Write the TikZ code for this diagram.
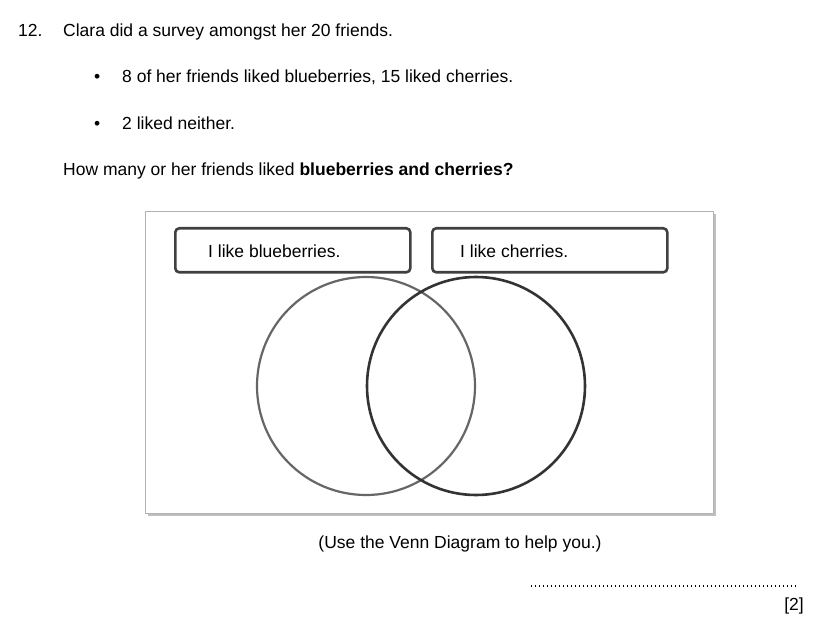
\documentclass[tikz,border=0pt]{standalone}
\usepackage{fontspec}
\setmainfont{Liberation Sans}
\begin{document}
\begin{tikzpicture}[x=1pt,y=-1pt,
  txt/.style={anchor=base west,inner sep=0pt,font=\fontsize{17.5}{21}\selectfont},
  lbl/.style={draw=black!75,line width=2.6pt,rounded corners=4pt,minimum width=235pt,minimum height=44pt,anchor=north west}]
\useasboundingbox (0,0) rectangle (825,631);
\node[txt] (num) at (18,37) {12.};
\node[txt] (q1) at (63,37) {Clara did a survey amongst her 20 friends.};
\node[txt] (b1) at (94,83) {\textbullet};
\node[txt] (t1) at (122,83) {8 of her friends liked blueberries, 15 liked cherries.};
\node[txt] (b2) at (94,130) {\textbullet};
\node[txt] (t2) at (122,130) {2 liked neither.};
\node[txt] (q2) at (63,176) {How many or her friends liked \textbf{blueberries and cherries?}};
\fill[black!25] (148,214) rectangle (716,516);
\node[draw=black!30,fill=white,line width=1pt,minimum width=568pt,minimum height=302pt,anchor=north west,inner sep=0pt] (frame) at (145,211) {};
\draw[black!60,line width=2.2pt] (366,386) circle (109);
\draw[black!80,line width=2.6pt] (476,386) circle (109);
\node[lbl,fill=white] (lb) at (174,227) {};
\node[lbl,fill=white] (lc) at (431,227) {};
\node[txt] (lbt) at (208,258) {I like blueberries.};
\node[txt] (lct) at (460,258) {I like cherries.};
\node[txt,anchor=base] (use) at (460,548) {(Use the Venn Diagram to help you.)};
\node[txt,anchor=base east] (dots) at (800,588) {\dotfill};
\draw[line width=1.3pt,dash pattern=on 1.3pt off 2.7pt] (531,586) -- (798,586);
\node[txt,anchor=base east] (mk) at (804,610) {[2]};
\end{tikzpicture}
\end{document}
